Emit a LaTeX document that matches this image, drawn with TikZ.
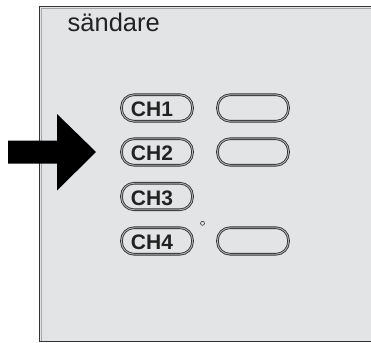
\documentclass[tikz,border=0pt]{standalone}
\usepackage{fontspec}
\setmainfont{Liberation Sans}
\definecolor{panel}{HTML}{E3E4E6}
\definecolor{edge}{HTML}{333333}
\definecolor{inked}{HTML}{222222}
\begin{document}
\begin{tikzpicture}[x=1pt,y=-1pt,
  pill/.style={draw=edge, line width=0.85pt, double=gray!60, double distance=0.9pt,
    rounded corners=12.5pt, minimum width=71pt, minimum height=26.5pt, inner sep=0pt},
  chlabel/.style={font=\fontsize{21}{22}\selectfont\bfseries, text=inked, anchor=base, inner sep=0pt}]
\useasboundingbox (0,0) rectangle (371,342);
% panel
\fill[panel] (40,7) rectangle (372,342);
\draw[edge, line width=1pt] (39.7,7) -- (372,7);
\draw[edge, line width=1pt] (39.7,6.5) -- (39.7,342);
\draw[gray!70, line width=0.6pt] (41.3,8.6) -- (372,8.6);
\draw[gray!70, line width=0.6pt] (41.3,8.6) -- (41.3,342);
\draw[edge, line width=1.5pt] (39.7,341.3) -- (372,341.3);
% title
\node[anchor=base west, inner sep=0pt, text=inked, font=\fontsize{25.5}{26}\selectfont] (title) at (67.5,32) {sändare};
% buttons
\foreach \n/\y in {1/108,2/152,3/196.5,4/241}{
  \node[pill] (L\n) at (157,\y) {};
  \node[chlabel] (T\n) at ([xshift=-5pt,yshift=-8.8pt]L\n.center) {CH\n};
}
\foreach \n/\y in {1/108,2/152,4/241}{
  \node[pill] (R\n) at (253,\y) {};
}
% small circle
\node[draw=edge, line width=0.6pt, circle, minimum size=4pt, inner sep=0pt] (dot) at (202.5,223.3) {};
% arrow
\fill[black] (8,140.5) -- (57,140.5) -- (57,114) -- (96,152) -- (57,190.5) -- (57,163.5) -- (8,163.5) -- cycle;
\end{tikzpicture}
\end{document}
